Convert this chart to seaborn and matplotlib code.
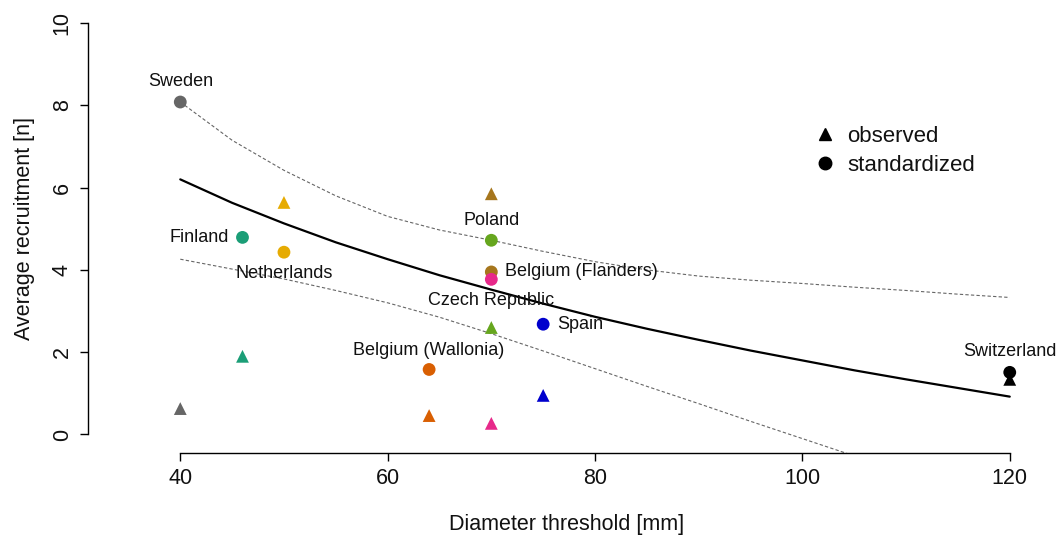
import matplotlib
matplotlib.use("Agg")
import matplotlib.pyplot as plt
import seaborn as sns
import pandas as pd
from matplotlib.lines import Line2D

# ---- data ----
countries = ["Sweden", "Finland", "Netherlands", "Belgium (Wallonia)", "Poland",
             "Belgium (Flanders)", "Czech Republic", "Spain", "Switzerland"]
threshold = [40, 46, 50, 64, 70, 70, 70, 75, 120]
observed = [0.63, 1.90, 5.64, 0.46, 2.60, 5.85, 0.27, 0.95, 1.34]
standardized = [8.08, 4.79, 4.43, 1.58, 4.72, 3.95, 3.77, 2.68, 1.51]
colors = ["#666666", "#1B9E77", "#E6AB02", "#D95F02", "#66A61E",
          "#A6761D", "#E7298A", "#0000CD", "#000000"]

fit_x = [40, 45, 50, 55, 60, 65, 70, 75, 80, 85, 90, 95, 100, 105, 110, 115, 120]
fit_y = [6.20, 5.63, 5.13, 4.67, 4.26, 3.87, 3.52, 3.18, 2.86, 2.57, 2.30, 2.04,
         1.80, 1.56, 1.34, 1.13, 0.92]
upper_y = [8.08, 7.15, 6.42, 5.80, 5.30, 4.97, 4.72, 4.45, 4.20, 4.00, 3.85, 3.75,
           3.67, 3.58, 3.50, 3.41, 3.33]
lower_x = [40, 45, 50, 55, 60, 65, 70, 75, 80, 85, 90, 95, 100, 105, 110]
lower_y = [4.26, 4.02, 3.78, 3.50, 3.20, 2.85, 2.45, 2.03, 1.60, 1.17, 0.75, 0.32,
           -0.10, -0.52, -0.95]

# label placement: (dx, dy) in points, ha
label_pos = {
    "Sweden": (0, 15, "center"),
    "Finland": (-10, 0, "right"),
    "Netherlands": (0, -15, "center"),
    "Belgium (Wallonia)": (0, 14, "center"),
    "Poland": (0, 14, "center"),
    "Belgium (Flanders)": (10, 0, "left"),
    "Czech Republic": (0, -15, "center"),
    "Spain": (10, 0, "left"),
    "Switzerland": (0, 15, "center"),
}

rows = []
for c, x, o, s in zip(countries, threshold, observed, standardized):
    rows.append({"country": c, "x": x, "y": o, "type": "observed"})
    rows.append({"country": c, "x": x, "y": s, "type": "standardized"})
df = pd.DataFrame(rows)
palette = dict(zip(countries, colors))

sns.set_style("ticks")
plt.rcParams["font.family"] = ["Liberation Sans", "DejaVu Sans"]

fig = plt.figure(figsize=(10.56, 5.38), dpi=100)
ax = fig.add_axes([88 / 1056, (538 - 453) / 538, (1045 - 88) / 1056, (453 - 4.5) / 538])

# curves
fit_df = pd.DataFrame({"x": fit_x, "fit": fit_y, "upper": upper_y})
low_df = pd.DataFrame({"x": lower_x, "lower": lower_y})
sns.lineplot(data=fit_df, x="x", y="fit", ax=ax, color="black", lw=1.6, sort=False)
sns.lineplot(data=fit_df, x="x", y="upper", ax=ax, color="#666666", lw=0.8,
             linestyle=(0, (3, 2)), sort=False)
sns.lineplot(data=low_df, x="x", y="lower", ax=ax, color="#666666", lw=0.8,
             linestyle=(0, (3, 2)), sort=False)

sns.scatterplot(data=df, x="x", y="y", hue="country", style="type",
                markers={"observed": "^", "standardized": "o"},
                palette=palette, s=85, edgecolor="none", legend=False, ax=ax,
                zorder=3)

for c, x, s in zip(countries, threshold, standardized):
    dx, dy, ha = label_pos[c]
    ax.annotate(c, (x, s), xytext=(dx, dy), textcoords="offset points",
                ha=ha, va="center", fontsize=13, color="#111111")

ax.set_xlim(31.1, 123.4)
ax.set_ylim(-0.45, 10.45)
ax.set_xticks([40, 60, 80, 100, 120])
ax.set_yticks([0, 2, 4, 6, 8, 10])
ax.spines["top"].set_visible(False)
ax.spines["right"].set_visible(False)
ax.spines["bottom"].set_bounds(40, 120)
ax.spines["left"].set_bounds(0, 10)
for sp in ("bottom", "left"):
    ax.spines[sp].set_linewidth(1.0)
    ax.spines[sp].set_color("black")
ax.tick_params(axis="both", direction="out", length=6, width=1.0,
               labelsize=15.5, colors="black", labelcolor="#111111", pad=5)
for lab in ax.get_yticklabels():
    lab.set_rotation(90)
    lab.set_va("center")

ax.set_xlabel("Diameter threshold [mm]", fontsize=15.5, labelpad=18, color="#111111")
ax.set_ylabel("Average recruitment [n]", fontsize=15.5, labelpad=12, color="#111111")

handles = [Line2D([], [], marker="^", color="black", linestyle="none", markersize=9),
           Line2D([], [], marker="o", color="black", linestyle="none", markersize=9)]
leg = ax.legend(handles, ["observed", "standardized"], loc="upper left",
                bbox_to_anchor=(805 / 1056, (538 - 115) / 538),
                bbox_transform=fig.transFigure,
                frameon=False, fontsize=16, handlelength=0.8, handletextpad=0.6,
                labelspacing=0.35, borderpad=0)
for t in leg.get_texts():
    t.set_color("#111111")

fig.savefig("out.png", dpi=100, facecolor="white")
